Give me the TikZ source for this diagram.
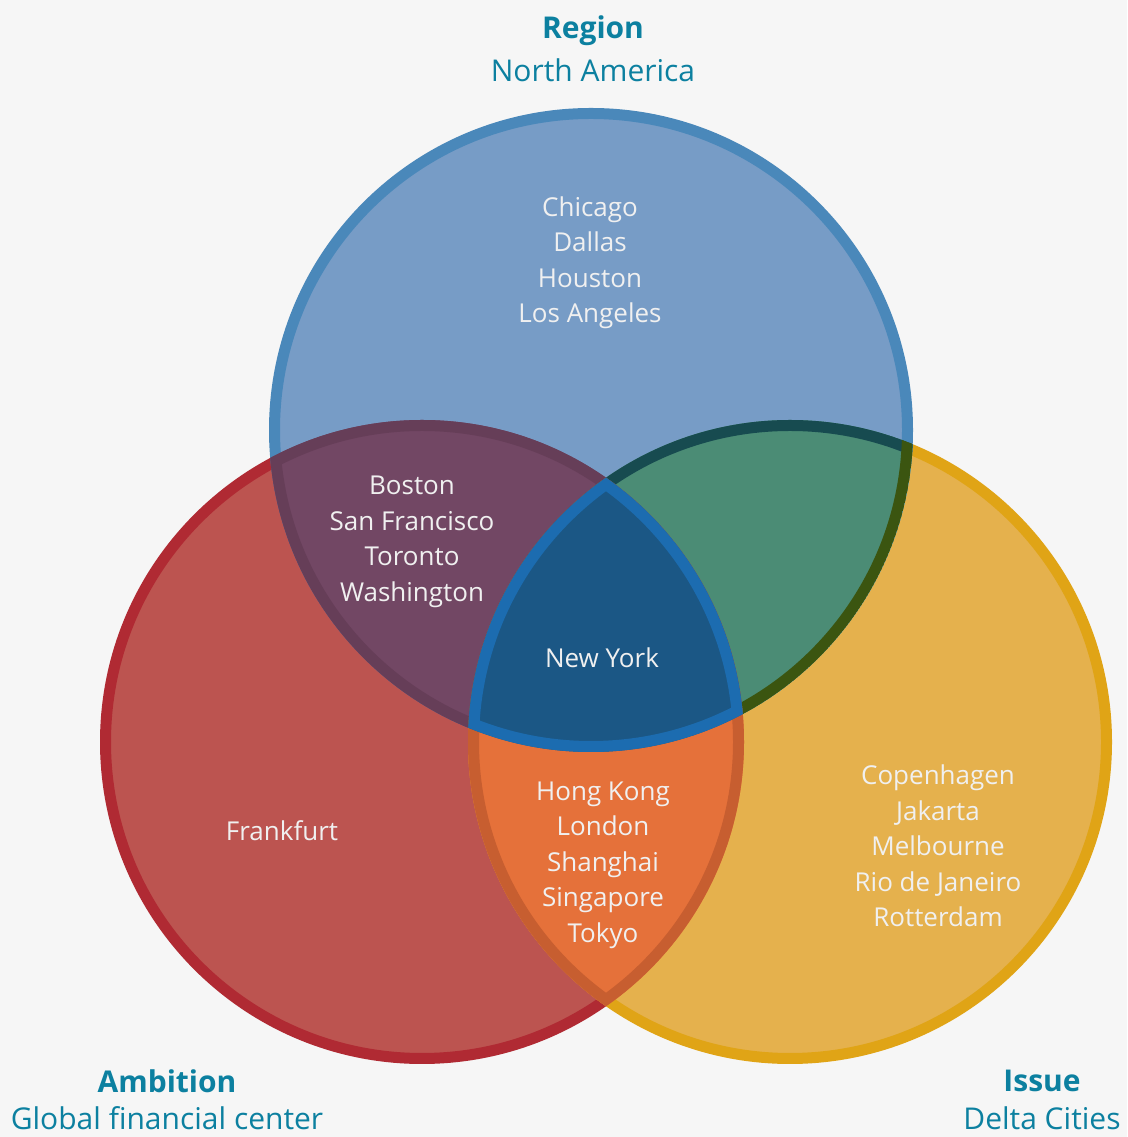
\documentclass[tikz,border=0pt]{standalone}
\usepackage{fontspec}
\setmainfont{Open Sans}
\usepackage{xcolor}
\usepackage{tikz}

\definecolor{bggray}{HTML}{F6F6F6}
\definecolor{headblue}{HTML}{0C80A0}
\definecolor{redfill}{HTML}{BC5450}
\definecolor{redline}{HTML}{B02A33}
\definecolor{yellowfill}{HTML}{E5B14D}
\definecolor{yellowline}{HTML}{E0A416}
\definecolor{bluefill}{HTML}{779CC6}
\definecolor{blueline}{HTML}{4A88BA}
\definecolor{purplefill}{HTML}{724764}
\definecolor{purpleline}{HTML}{663E58}
\definecolor{greenfill}{HTML}{4B8C75}
\definecolor{greentop}{HTML}{174B50}
\definecolor{greenlow}{HTML}{3B5510}
\definecolor{orangefill}{HTML}{E5713A}
\definecolor{orangeline}{HTML}{C75E30}
\definecolor{nyfill}{HTML}{1B5785}
\definecolor{nyline}{HTML}{1C6CB0}

\begin{document}
\begin{tikzpicture}[x=1pt,y=1pt,
    ring/.style={line width=11pt},
    city/.style={text=white!94!black,align=center,font=\fontsize{26}{35.5}\selectfont},
    head/.style={text=headblue,font=\bfseries\fontsize{30}{40}\selectfont},
    subhead/.style={text=headblue,font=\fontsize{30}{40}\selectfont}]

    \fill[bggray] (0,0) rectangle (1127,1137);
    \useasboundingbox (0,0) rectangle (1127,1137);

    \coordinate (cred) at (422,395);
    \coordinate (cyellow) at (790,395);
    \coordinate (cblue) at (591,707);

    % the three sets
    \filldraw[fill=redfill,draw=redline,ring] (cred) circle(316.5);
    \filldraw[fill=yellowfill,draw=yellowline,ring] (cyellow) circle(316.5);
    \filldraw[fill=bluefill,draw=blueline,ring] (cblue) circle(316.5);

    % ambition and region
    \begin{scope}
        \clip (cred) circle(322);
        \clip (cblue) circle(322);
        \fill[purplefill] (0,0) rectangle (1127,1137);
        \draw[purpleline,ring] (cred) circle(316.5) (cblue) circle(316.5);
    \end{scope}

    % region and issue
    \begin{scope}
        \clip (cyellow) circle(322);
        \clip (cblue) circle(322);
        \fill[greenfill] (0,0) rectangle (1127,1137);
        \draw[greentop,ring] (cyellow) circle(316.5);
        \draw[greenlow,ring] (cblue) circle(316.5);
    \end{scope}

    % ambition and issue
    \begin{scope}
        \clip (cred) circle(322);
        \clip (cyellow) circle(322);
        \fill[orangefill] (0,0) rectangle (1127,1137);
        \draw[orangeline,ring] (cred) circle(316.5) (cyellow) circle(316.5);
    \end{scope}

    % all three
    \begin{scope}
        \clip (cred) circle(322);
        \clip (cyellow) circle(322);
        \clip (cblue) circle(322);
        \fill[nyfill] (0,0) rectangle (1127,1137);
        \draw[nyline,ring] (cred) circle(316.5) (cyellow) circle(316.5) (cblue) circle(316.5);
    \end{scope}

    % cities
    \node[city] (region) at (590,874) {Chicago\\Dallas\\Houston\\Los Angeles};
    \node[city] (regionambition) at (412,595) {Boston\\San Francisco\\Toronto\\Washington};
    \node[city] (all) at (602,479) {New York};
    \node[city] (ambition) at (282,306) {Frankfurt};
    \node[city] (ambitionissue) at (603,272) {Hong Kong\\London\\Shanghai\\Singapore\\Tokyo};
    \node[city] (issue) at (938,291) {Copenhagen\\Jakarta\\Melbourne\\Rio de Janeiro\\Rotterdam};

    % headings
    \node[head] (regionhead) at (593,1106) {Region};
    \node[subhead] (regionsub) at (593,1067) {North America};
    \node[head] (ambitionhead) at (167,56) {Ambition};
    \node[subhead] (ambitionsub) at (167,19) {Global financial center};
    \node[head] (issuehead) at (1042,56) {Issue};
    \node[subhead] (issuesub) at (1042,19) {Delta Cities};

\end{tikzpicture}
\end{document}
